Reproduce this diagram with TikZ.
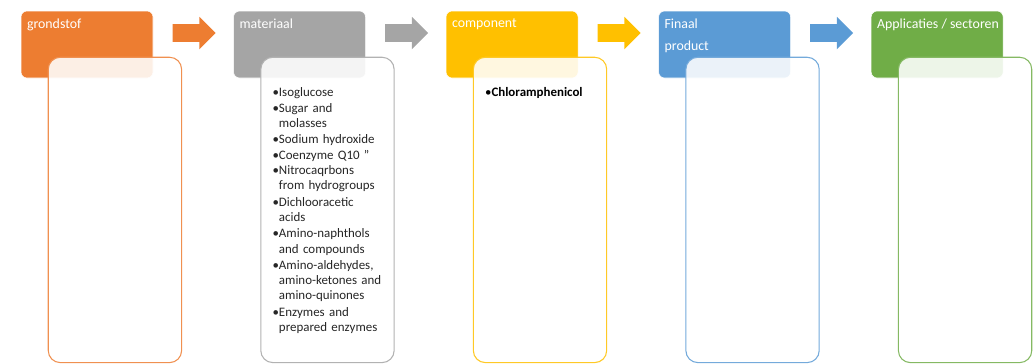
\documentclass[tikz,border=0pt]{standalone}
\usepackage{fontspec}
\setmainfont{Carlito}
\usetikzlibrary{shapes.arrows, positioning}

\definecolor{cOranje}{HTML}{ED7D31}
\definecolor{cGrijs}{HTML}{A5A5A5}
\definecolor{cGoud}{HTML}{FFC000}
\definecolor{cBlauw}{HTML}{5B9BD5}
\definecolor{cGroen}{HTML}{70AD47}

\newcommand{\punt}[1]{\par\noindent\textbullet\begin{tabular}[t]{@{}l@{}}#1\end{tabular}}

\begin{document}
\begin{tikzpicture}[
    x=0.75pt, y=-0.75pt,
    kop/.style={rectangle, rounded corners=4.5pt, draw=white, fill=#1, minimum width=99pt, minimum height=50.25pt},
    kopt/.style={anchor=north west, text=white, align=left, inner xsep=4.5pt, inner ysep=6pt, font=\fontsize{10.4pt}{12pt}\selectfont},
    lijst/.style={rectangle, rounded corners=9pt, draw=#1!85, line width=0.8pt, fill=white, fill opacity=0.88, minimum width=100pt, minimum height=229pt},
    lijstt/.style={anchor=north west, text=black!85, text width=88pt, align=left, inner sep=0pt, font=\fontsize{9.7pt}{11.3pt}\selectfont\setlength{\parskip}{0.2pt}},
    pijl/.style={single arrow, fill=#1, single arrow head extend=5.6pt, minimum height=32.25pt, inner sep=6.4pt},
    node distance=60pt
]
\useasboundingbox (0,0) rectangle (1035,364);

% Kopjes
\node[kop=cOranje, label={[kopt]north west:grondstof}] (grond) at (87,44.5) {};
\node[kop=cGrijs, right=of grond, label={[kopt]north west:materiaal}] (mat) {};
\node[kop=cGoud, right=of mat, label={[kopt]north west:component}] (comp) {};
\node[kop=cBlauw, right=of comp, label={[kopt]north west:{Finaal\\[4.5pt]product}}] (fin) {};
\node[kop=cGroen, right=of fin, label={[kopt]north west:Applicaties / sectoren}] (app) {};

% Pijlen
\node[pijl=cOranje, right=14.25pt of grond.east, yshift=8.6pt] (p1) {};
\node[pijl=cGrijs, right=14.25pt of mat.east, yshift=8.6pt] (p2) {};
\node[pijl=cGoud, right=14.25pt of comp.east, yshift=8.6pt] (p3) {};
\node[pijl=cBlauw, right=14.25pt of fin.east, yshift=8.6pt] (p4) {};

% Vakken
\node[lijst=cOranje, below right=34.5pt and 20.25pt of grond.north west] (grondvak) {};
\node[lijst=cGrijs, below right=34.5pt and 20.25pt of mat.north west] (matvak) {};
\node[lijst=cGoud, below right=34.5pt and 20.25pt of comp.north west] (compvak) {};
\node[lijst=cBlauw, below right=34.5pt and 20.25pt of fin.north west] (finvak) {};
\node[lijst=cGroen, below right=34.5pt and 20.25pt of app.north west] (appvak) {};

% Inhoud
\node[lijstt, below right=18.3pt and 9pt of matvak.north west] (matitems) {%
  \punt{Isoglucose}
  \punt{Sugar and\\molasses}
  \punt{Sodium hydroxide}
  \punt{Coenzyme Q10 "}
  \punt{Nitrocaqrbons\\from hydrogroups}
  \punt{Dichlooracetic\\acids}
  \punt{Amino-naphthols\\and compounds}
  \punt{Amino-aldehydes,\\amino-ketones and\\amino-quinones}
  \punt{Enzymes and\\prepared enzymes}};
\node[lijstt, below right=17.8pt and 9pt of compvak.north west, text=black] (compitems) {%
  \punt{\textbf{Chloramphenicol}}};

\end{tikzpicture}
\end{document}
